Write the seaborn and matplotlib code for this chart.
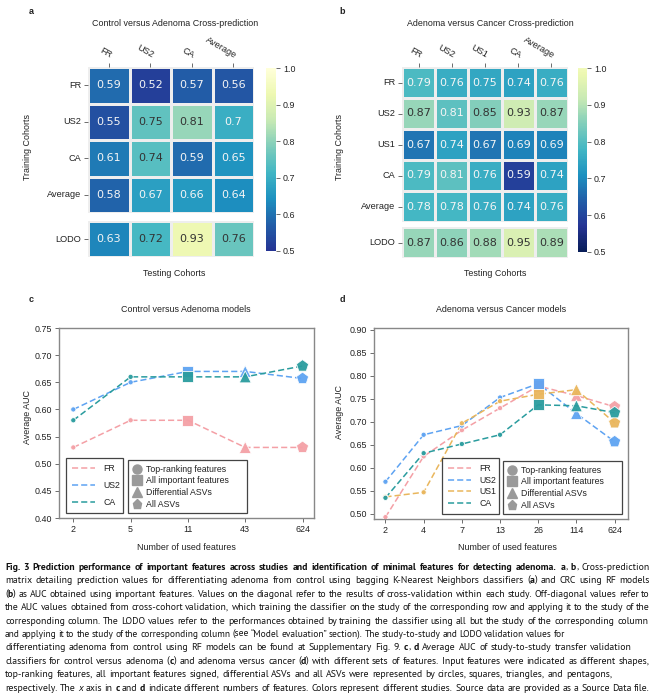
"""
Fig. 3 - cross-prediction matrices (a, b) and feature-count AUC curves (c, d)
"""

import re
import numpy as np
import pandas as pd
import matplotlib
matplotlib.use('Agg')
import matplotlib.pyplot as plt
from matplotlib.colors import LinearSegmentedColormap
from matplotlib.lines import Line2D
from matplotlib.ticker import FormatStrFormatter
from matplotlib import font_manager
import seaborn as sns

# ---------------- data ----------------
a_rows = ['FR', 'US2', 'CA', 'Average']
a_cols = ['FR', 'US2', 'CA', 'Average']
a_vals = [[0.59, 0.52, 0.57, 0.56],
          [0.55, 0.75, 0.81, 0.70],
          [0.61, 0.74, 0.59, 0.65],
          [0.58, 0.67, 0.66, 0.64]]
a_lodo = [0.63, 0.72, 0.93, 0.76]

b_rows = ['FR', 'US2', 'US1', 'CA', 'Average']
b_cols = ['FR', 'US2', 'US1', 'CA', 'Average']
b_vals = [[0.79, 0.76, 0.75, 0.74, 0.76],
          [0.87, 0.81, 0.85, 0.93, 0.87],
          [0.67, 0.74, 0.67, 0.69, 0.69],
          [0.79, 0.81, 0.76, 0.59, 0.74],
          [0.78, 0.78, 0.76, 0.74, 0.76]]
b_lodo = [0.87, 0.86, 0.88, 0.95, 0.89]

c_features = ['2', '5', '11', '43', '624']
c_sets = ['Top-ranking features', 'Top-ranking features', 'All important features',
          'Differential ASVs', 'All ASVs']
c_fr = [0.53, 0.58, 0.58, 0.53, 0.53]
c_us2 = [0.60, 0.65, 0.67, 0.67, 0.657]
c_ca = [0.58, 0.66, 0.66, 0.66, 0.68]

d_features = ['2', '4', '7', '13', '26', '114', '624']
d_sets = ['Top-ranking features'] * 4 + ['All important features', 'Differential ASVs', 'All ASVs']
d_fr = [0.493, 0.625, 0.682, 0.730, 0.778, 0.757, 0.733]
d_us2 = [0.570, 0.672, 0.692, 0.753, 0.783, 0.718, 0.657]
d_us1 = [0.537, 0.547, 0.697, 0.745, 0.760, 0.770, 0.698]
d_ca = [0.535, 0.632, 0.652, 0.672, 0.737, 0.735, 0.720]

set_names = ['Top-ranking features', 'All important features', 'Differential ASVs', 'All ASVs']

caption_lines = [
    "**Fig. 3 Prediction performance of important features across studies and identification of minimal features for detecting adenoma. a**, **b**, Cross-prediction",
    "matrix detailing prediction values for differentiating adenoma from control using bagging K-Nearest Neighbors classifiers (**a**) and CRC using RF models",
    "(**b**) as AUC obtained using important features. Values on the diagonal refer to the results of cross-validation within each study. Off-diagonal values refer to",
    "the AUC values obtained from cross-cohort validation, which training the classifier on the study of the corresponding row and applying it to the study of the",
    "corresponding column. The LODO values refer to the performances obtained by training the classifier using all but the study of the corresponding column",
    "and applying it to the study of the corresponding column (see \u201cModel evaluation\u201d section). The study-to-study and LODO validation values for",
    "differentiating adenoma from control using RF models can be found at Supplementary Fig. 9. **c**, **d** Average AUC of study-to-study transfer validation",
    "classifiers for control versus adenoma (**c**) and adenoma versus cancer (**d**) with different sets of features. Input features were indicated as different shapes,",
    "top-ranking features, all important features signed, differential ASVs and all ASVs were represented by circles, squares, triangles, and pentagons,",
    "respectively. The *x* axis in **c** and **d** indicate different numbers of features. Colors represent different studies. Source data are provided as a Source Data file.",
]

# ---------------- style ----------------
W, H = 654, 696
COLORS = {'FR': '#f4a0a6', 'US2': '#5ea3f2', 'US1': '#e9b65c', 'CA': '#2a9c9e'}
MARKERS = {'Top-ranking features': 'o', 'All important features': 's',
           'Differential ASVs': '^', 'All ASVs': 'p'}
SIZES = {'Top-ranking features': 14, 'All important features': 64,
         'Differential ASVs': 74, 'All ASVs': 84}
TXT = '#222222'
caption_ends = [650, 650, 650, 650, 648, 565, 632, 650, 612, 650]

plt.rcParams['font.family'] = ['Liberation Sans', 'DejaVu Sans']
plt.rcParams['text.color'] = TXT
plt.rcParams['xtick.color'] = '#555555'
plt.rcParams['ytick.color'] = '#555555'
plt.rcParams['xtick.labelcolor'] = TXT
plt.rcParams['ytick.labelcolor'] = TXT


def box(x0, y0, x1, y1):
    """pixel box (top-left origin) -> figure fraction rect"""
    return [x0 / W, 1 - y1 / H, (x1 - x0) / W, (y1 - y0) / H]


def ftext(fig, x, y, s, **kw):
    return fig.text(x / W, 1 - y / H, s, **kw)


def cut_cmap(name, lo, hi):
    base = plt.get_cmap(name)
    return LinearSegmentedColormap.from_list(name + '_cut', base(np.linspace(lo, hi, 256)))


def draw_matrix(fig, rows, cols, vals, lodo, main_box, lodo_box, cbar_box, cmap, dark_from):
    ax = fig.add_axes(main_box)
    ax2 = fig.add_axes(lodo_box)
    cax = fig.add_axes(cbar_box)
    main_df = pd.DataFrame(vals, index=rows, columns=cols)
    lodo_df = pd.DataFrame([lodo], index=['LODO'], columns=cols)
    kw = dict(vmin=0.5, vmax=1.0, cmap=cmap, annot=True, fmt='g',
              linewidths=1, linecolor='#eeeeee',
              annot_kws={'fontsize': 8, 'family': 'DejaVu Sans'})
    sns.heatmap(main_df, ax=ax, cbar_ax=cax, **kw)
    sns.heatmap(lodo_df, ax=ax2, cbar=False, **kw)

    # text colour depends on cell brightness
    for a in (ax, ax2):
        for t in a.texts:
            t.set_color('#333333' if float(t.get_text()) >= dark_from else '#f5f5f5')

    ax.xaxis.tick_top()
    ax.set_xticklabels(cols, rotation=-30, ha='right', rotation_mode='anchor')
    ax.set_yticklabels(rows, rotation=0)
    ax2.set_yticklabels(['LODO'], rotation=0)
    ax2.set_xticks([])
    for a in (ax, ax2):
        a.set_xlabel('')
        a.set_ylabel('')
        a.tick_params(length=3, width=0.6, labelsize=6.6, pad=2)

    cbar = ax.collections[0].colorbar
    cbar.set_ticks(np.arange(0.5, 1.01, 0.1))
    cbar.set_ticklabels(['0.5', '0.6', '0.7', '0.8', '0.9', '1.0'])
    cax.tick_params(length=3, width=0.6, labelsize=6.4, pad=2)


def draw_lines(ax, features, sets, series, ylim, yticks, xlim):
    rows = []
    for name, vals in series.items():
        for i, v in enumerate(vals):
            rows.append({'pos': i, 'auc': v, 'cohort': name, 'fset': sets[i]})
    df = pd.DataFrame(rows)
    pal = {k: COLORS[k] for k in series}

    sns.lineplot(data=df, x='pos', y='auc', hue='cohort', palette=pal, ax=ax,
                 linestyle=(0, (4, 2)), linewidth=1.1, legend=False, errorbar=None, zorder=2)
    sns.scatterplot(data=df, x='pos', y='auc', hue='cohort', palette=pal,
                    style='fset', markers=MARKERS, size='fset', sizes=SIZES,
                    edgecolor='white', linewidth=0.6, alpha=0.95,
                    legend=False, ax=ax, zorder=3)

    ax.set_xticks(range(len(features)))
    ax.set_xticklabels(features)
    ax.set_xlim(*xlim)
    ax.set_yticks(yticks)
    ax.set_ylim(*ylim)
    ax.yaxis.set_major_formatter(FormatStrFormatter('%.2f'))
    ax.set_xlabel('')
    ax.set_ylabel('')
    ax.tick_params(length=3, width=0.6, labelsize=6.4, pad=2)
    for s in ax.spines.values():
        s.set_color('#888888')
        s.set_linewidth(1.0)


def add_legends(ax, names, color_box, marker_box, color_spacing):
    color_handles = [Line2D([], [], color=COLORS[n], ls=(0, (4, 2)), lw=1.1, label=n) for n in names]
    marker_handles = [Line2D([], [], color='#9a9a9a', marker=MARKERS[s], ls='', markersize=6.5, label=s)
                      for s in set_names]
    common = dict(loc='lower left', mode='expand', frameon=True, fancybox=False,
                  edgecolor='#444444', fontsize=6.3, borderaxespad=0, framealpha=1)
    leg1 = ax.legend(handles=color_handles, bbox_to_anchor=color_box, handlelength=2.6,
                     handletextpad=1.0, labelspacing=color_spacing, borderpad=0.7, **common)
    leg1.get_frame().set_linewidth(0.9)
    ax.add_artist(leg1)
    leg2 = ax.legend(handles=marker_handles, bbox_to_anchor=marker_box, handlelength=1.0,
                     handletextpad=0.6, labelspacing=0.3, borderpad=0.5, **common)
    leg2.get_frame().set_linewidth(0.9)


def parse_words(line):
    words = [[]]
    style = 'normal'
    for tok in re.split(r'(\*\*|\*)', line):
        if tok == '**':
            style = 'normal' if style == 'bold' else 'bold'
            continue
        if tok == '*':
            style = 'normal' if style == 'italic' else 'italic'
            continue
        for i, piece in enumerate(tok.split(' ')):
            if i > 0:
                words.append([])
            if piece:
                words[-1].append((piece, style))
    return [w for w in words if w]


def draw_caption(fig, lines, ends, family, size, x0=5, y0=570, step=13.4):
    r = fig.canvas.get_renderer()
    space_em = 0.26
    all_arts = []
    for i, line in enumerate(lines):
        words = parse_words(line)
        yb = round(y0 + i * step)  # whole-pixel baseline keeps words level
        arts = [[ftext(fig, 0, yb, s, fontsize=size, family=family, color='#111111',
                       va='baseline',
                       fontweight='bold' if st == 'bold' else 'normal',
                       fontstyle='italic' if st == 'italic' else 'normal')
                 for s, st in w] for w in words]
        all_arts.append(arts)

    def measure(arts):
        return [[a.get_window_extent(renderer=r).width for a in w] for w in arts]

    # one font size so the full-width lines have about natural word spacing
    factors = []
    for arts, x1 in zip(all_arts, ends):
        if x1 >= 648:
            ws = measure(arts)
            nat = sum(sum(w) for w in ws) + (len(arts) - 1) * space_em * size * 100 / 72
            factors.append((x1 - x0) / nat)
    base = size * float(np.median(factors))

    for arts, x1 in zip(all_arts, ends):
        for w in arts:
            for a in w:
                a.set_fontsize(base)
        widths = measure(arts)
        total = sum(sum(w) for w in widths)
        need = total + (len(arts) - 1) * space_em * 0.8 * base * 100 / 72
        if need > x1 - x0:
            f = (x1 - x0) / need
            for w in arts:
                for a in w:
                    a.set_fontsize(base * f)
            widths = measure(arts)
            total = sum(sum(w) for w in widths)
        gap = (x1 - x0 - total) / max(len(arts) - 1, 1)
        x = x0
        for w, ws in zip(arts, widths):
            for a, aw in zip(w, ws):
                a.set_x(x / W)
                x += aw
            x += gap


def main():
    fig = plt.figure(figsize=(W / 100, H / 100), dpi=100)

    # ---- a ----
    draw_matrix(fig, a_rows, a_cols, a_vals, a_lodo,
                box(88, 67, 254, 213), box(88, 221, 254, 257), box(266, 68, 276, 251),
                cut_cmap('YlGnBu_r', 0.125, 1.0), dark_from=0.72)
    ftext(fig, 29, 12, 'a', fontsize=6.5, fontweight='bold', va='center')
    ftext(fig, 175, 23, 'Control versus Adenoma Cross-prediction', fontsize=6.4, ha='center', va='center')
    ftext(fig, 174, 274, 'Testing Cohorts', fontsize=6.4, ha='center', va='center')
    ftext(fig, 28, 147, 'Training Cohorts', fontsize=6.4, ha='center', va='center', rotation=90)

    # ---- b ----
    draw_matrix(fig, b_rows, b_cols, b_vals, b_lodo,
                box(402, 67, 568, 222), box(402, 227, 568, 258), box(578, 68, 587, 252),
                cut_cmap('YlGnBu_r', 0.0, 0.9), dark_from=0.84)
    ftext(fig, 339, 12, 'b', fontsize=6.5, fontweight='bold', va='center')
    ftext(fig, 490, 23, 'Adenoma versus Cancer Cross-prediction', fontsize=6.4, ha='center', va='center')
    ftext(fig, 495, 274, 'Testing Cohorts', fontsize=6.4, ha='center', va='center')
    ftext(fig, 340, 147, 'Training Cohorts', fontsize=6.4, ha='center', va='center', rotation=90)

    # ---- c ----
    axc = fig.add_axes(box(59, 328, 314, 518))
    draw_lines(axc, c_features, c_sets, {'FR': c_fr, 'US2': c_us2, 'CA': c_ca},
               ylim=(0.40, 0.75), yticks=np.arange(0.40, 0.751, 0.05), xlim=(-0.25, 4.2))
    add_legends(axc, ['FR', 'US2', 'CA'], (0.027, 0.026, 0.224, 0.2), (0.27, 0.026, 0.467, 0.2),
                color_spacing=0.9)
    ftext(fig, 29, 299, 'c', fontsize=6.5, fontweight='bold', va='center')
    ftext(fig, 186, 310, 'Control versus Adenoma models', fontsize=6.4, ha='center', va='center')
    ftext(fig, 186, 547, 'Number of used features', fontsize=6.4, ha='center', va='center')
    ftext(fig, 28, 417, 'Average AUC', fontsize=6.4, ha='center', va='center', rotation=90)

    # ---- d ----
    axd = fig.add_axes(box(374, 328, 628, 519))
    draw_lines(axd, d_features, d_sets, {'FR': d_fr, 'US2': d_us2, 'US1': d_us1, 'CA': d_ca},
               ylim=(0.489, 0.904), yticks=np.arange(0.50, 0.901, 0.05), xlim=(-0.3, 6.35))
    add_legends(axd, ['FR', 'US2', 'US1', 'CA'], (0.268, 0.026, 0.224, 0.2), (0.508, 0.026, 0.468, 0.2),
                color_spacing=0.3)
    ftext(fig, 340, 299, 'd', fontsize=6.5, fontweight='bold', va='center')
    ftext(fig, 501, 310, 'Adenoma versus Cancer models', fontsize=6.4, ha='center', va='center')
    ftext(fig, 507, 547, 'Number of used features', fontsize=6.4, ha='center', va='center')
    ftext(fig, 340, 412, 'Average AUC', fontsize=6.4, ha='center', va='center', rotation=90)

    # ---- caption ----
    names = {f.name for f in font_manager.fontManager.ttflist}
    cap_font = 'Liberation Sans'
    for cand in ['PT Sans', 'Source Sans 3', 'Fira Sans']:
        if cand in names:
            cap_font = cand
            break
    draw_caption(fig, caption_lines, caption_ends, cap_font, 7.0)

    fig.savefig('out.png', dpi=100)
    plt.close(fig)


if __name__ == '__main__':
    main()
